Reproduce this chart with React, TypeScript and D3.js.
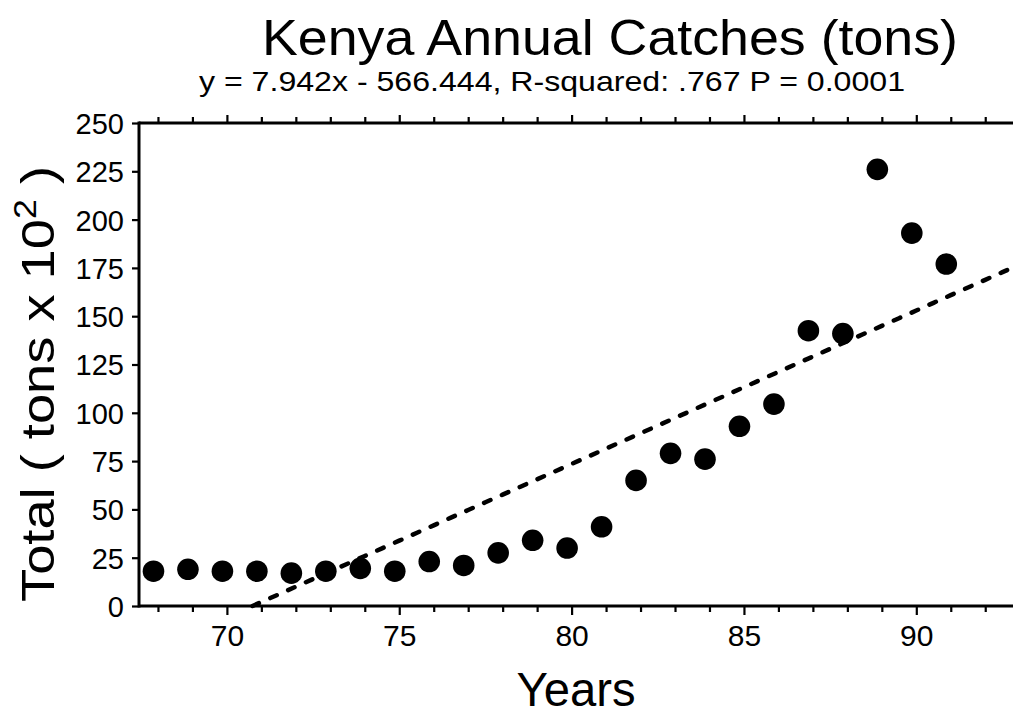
import React, { useEffect, useRef } from "react";
import * as d3 from "d3";

// ---- data ----
const years = [68, 69, 70, 71, 72, 73, 74, 75, 76, 77, 78, 79, 80, 81, 82, 83, 84, 85, 86, 87, 88, 89, 90, 91];
const catches = [18, 19, 18, 18, 17, 18, 19.5, 18, 23, 21, 27.5, 34, 30, 41, 65, 79, 76, 93, 104.5, 142.5, 141, 226, 193, 177];
const yTicks = [0, 25, 50, 75, 100, 125, 150, 175, 200, 225, 250];
const xMajorTicks = [70, 75, 80, 85, 90];
const xMinorTicks = [68, 69, 71, 72, 73, 74, 76, 77, 78, 79, 81, 82, 83, 84, 86, 87, 88, 89, 91, 92];
const slope = 7.942;
const intercept = -566.444;
const title = "Kenya  Annual  Catches (tons)";
const subtitle = "y = 7.942x - 566.444, R-squared:  .767  P = 0.0001";
const xLabel = "Years";

// plotting offsets observed in the scanned figure (in years)
const MARKER_SHIFT = -0.13;
const TREND_SHIFT = 0.58;

const W = 1013;
const H = 719;
const FONT = "'Liberation Sans', Arial, Helvetica, sans-serif";

export default function App() {
  const ref = useRef<SVGSVGElement | null>(null);

  useEffect(() => {
    const svg = d3.select(ref.current);
    svg.selectAll("*").remove();

    const x = d3.scaleLinear().domain([67.45, 93.3]).range([139, 139 + 25.85 * 34.47]);
    const y = d3.scaleLinear().domain([0, 250]).range([606, 123]);

    const g = svg.append("g");

    // axis frame lines
    const x0 = x(67.45);
    const x1 = W + 20;
    g.append("line").attr("x1", x0).attr("x2", x1).attr("y1", y(0)).attr("y2", y(0))
      .attr("stroke", "#000").attr("stroke-width", 3);
    g.append("line").attr("x1", x0).attr("x2", x1).attr("y1", y(250)).attr("y2", y(250))
      .attr("stroke", "#000").attr("stroke-width", 3);
    g.append("line").attr("x1", x0).attr("x2", x0).attr("y1", y(0) + 1.5).attr("y2", y(250) - 1.5)
      .attr("stroke", "#000").attr("stroke-width", 3);

    // bottom axis
    const bMinor = g.append("g").attr("transform", `translate(0,${y(0)})`)
      .call(d3.axisBottom(x).tickValues(xMinorTicks).tickSize(6).tickFormat(() => ""));
    const bMajor = g.append("g").attr("transform", `translate(0,${y(0)})`)
      .call(d3.axisBottom(x).tickValues(xMajorTicks).tickSize(9).tickPadding(10).tickFormat(d3.format("d")));
    // top axis
    const tMinor = g.append("g").attr("transform", `translate(0,${y(250)})`)
      .call(d3.axisTop(x).tickValues(xMinorTicks).tickSize(6).tickFormat(() => ""));
    const tMajor = g.append("g").attr("transform", `translate(0,${y(250)})`)
      .call(d3.axisTop(x).tickValues(xMajorTicks).tickSize(8).tickFormat(() => ""));
    // left axis
    const lAxis = g.append("g").attr("transform", `translate(${x0},0)`)
      .call(d3.axisLeft(y).tickValues(yTicks).tickSize(7).tickPadding(8).tickFormat(d3.format("d")));

    [bMinor, bMajor, tMinor, tMajor, lAxis].forEach((a) => {
      a.select(".domain").remove();
      a.selectAll(".tick line").attr("stroke", "#000").attr("stroke-width", 2.2);
      a.selectAll(".tick text")
        .attr("fill", "#000")
        .style("font-family", FONT)
        .style("font-size", "30px");
    });
    bMajor.selectAll(".tick text").attr("dy", "0.71em");
    lAxis.selectAll(".tick text").attr("dy", "0.36em").style("font-size", "29px");

    // trend line (from the zero crossing to the right edge)
    const xStart = -intercept / slope - TREND_SHIFT;
    const xs = [xStart].concat(d3.range(Math.ceil(xStart), 93.3, 0.5), [93.3]);
    const line = d3.line<number>()
      .x((d) => x(d))
      .y((d) => y(Math.max(0, slope * (d + TREND_SHIFT) + intercept)));
    g.append("path")
      .datum(xs)
      .attr("d", line)
      .attr("fill", "none")
      .attr("stroke", "#000")
      .attr("stroke-width", 4.5)
      .attr("stroke-linecap", "round")
      .attr("stroke-dasharray", "7 12.5");

    // points
    g.selectAll("circle.pt")
      .data(years.map((yr, i) => ({ yr, v: catches[i] })))
      .join("circle")
      .attr("class", "pt")
      .attr("cx", (d) => x(d.yr + MARKER_SHIFT))
      .attr("cy", (d) => y(d.v))
      .attr("r", 10.8)
      .attr("fill", "#000");

    // titles
    svg.append("text").attr("x", 610).attr("y", 55).attr("text-anchor", "middle")
      .style("font-family", FONT).style("font-size", "50px")
      .attr("textLength", 696).attr("lengthAdjust", "spacingAndGlyphs")
      .text(title);
    svg.append("text").attr("x", 552).attr("y", 91).attr("text-anchor", "middle")
      .style("font-family", FONT).style("font-size", "28px")
      .attr("textLength", 706).attr("lengthAdjust", "spacingAndGlyphs")
      .text(subtitle);
    svg.append("text").attr("x", 576).attr("y", 706).attr("text-anchor", "middle")
      .style("font-family", FONT).style("font-size", "48px")
      .attr("textLength", 119).attr("lengthAdjust", "spacingAndGlyphs")
      .text(xLabel);

    // y label with superscript
    const yl = svg.append("text")
      .attr("transform", `translate(54,${384}) rotate(-90)`)
      .attr("text-anchor", "middle")
      .attr("textLength", 436).attr("lengthAdjust", "spacingAndGlyphs")
      .style("font-family", FONT).style("font-size", "47px");
    yl.append("tspan").text("Total  ( tons x 10");
    yl.append("tspan").attr("dy", -18).style("font-size", "31px").text("2");
    yl.append("tspan").attr("dy", 18).text(" )");
  }, []);

  return (
    <svg
      ref={ref}
      width={W}
      height={H}
      style={{ position: "absolute", left: 0, top: 0, background: "#fff", overflow: "hidden" }}
    />
  );
}
